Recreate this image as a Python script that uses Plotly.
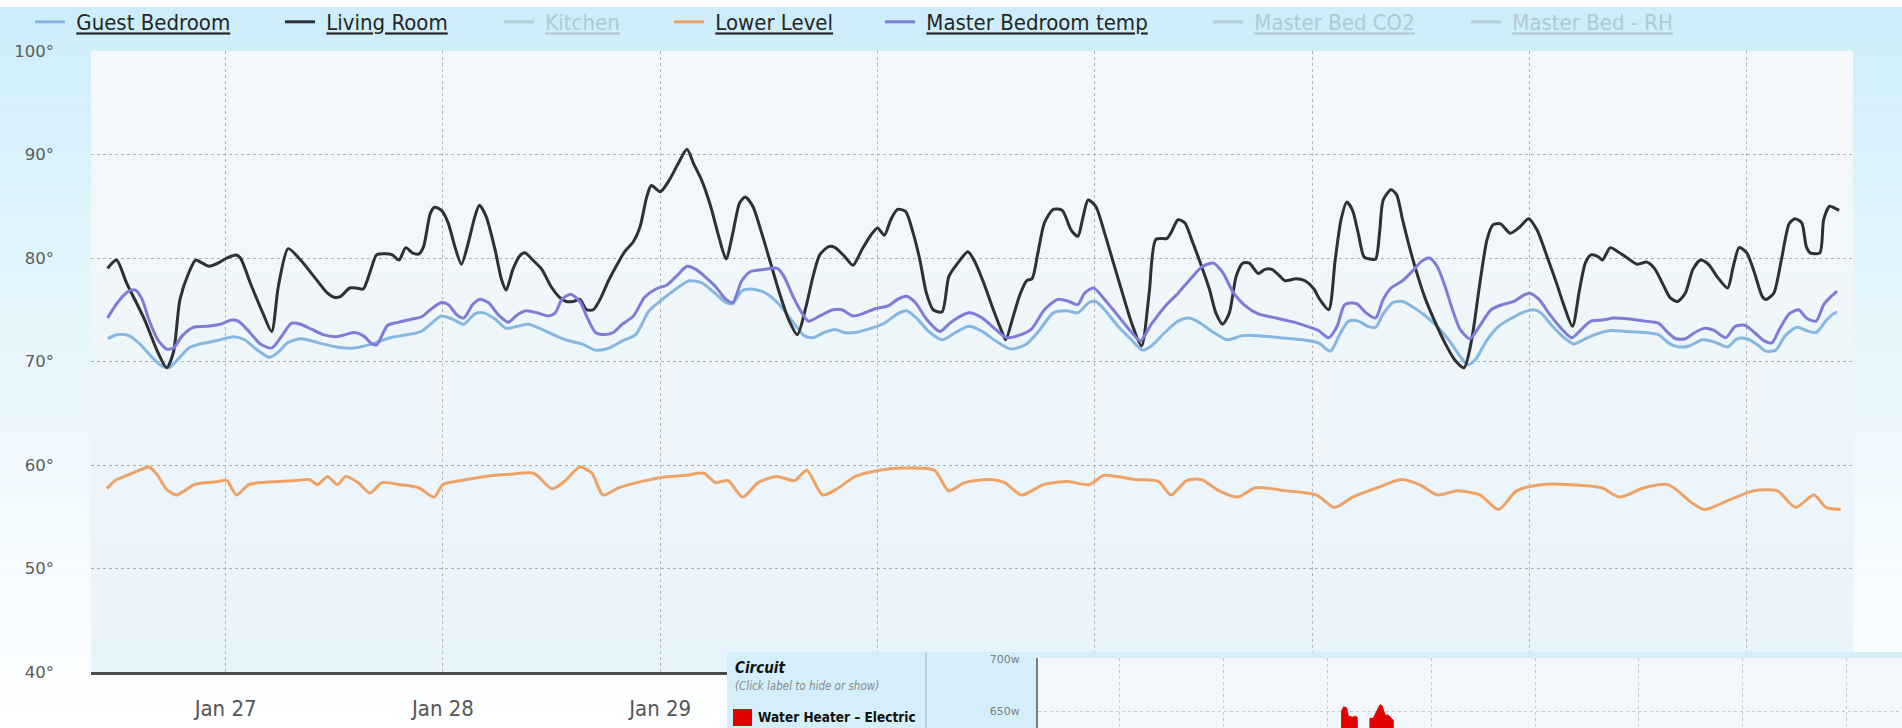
import pandas as pd
import plotly.graph_objects as go

# ---------------- data (days since 2014-01-26 00:00, temperature °F) ----------------
BASE = pd.Timestamp("2014-01-26 00:00")

guest_bedroom = [
    (0.457, 72.2), (0.503, 72.6), (0.554, 72.5), (0.605, 71.7), (0.657, 70.5), (0.698, 69.7), (0.739, 69.4),
    (0.780, 70.2), (0.831, 71.3), (0.883, 71.7), (0.955, 72.0), (1.037, 72.4), (1.088, 72.1), (1.140, 71.2),
    (1.201, 70.4), (1.243, 70.9), (1.284, 71.8), (1.345, 72.2), (1.428, 71.8), (1.510, 71.4), (1.592, 71.3),
    (1.674, 71.7), (1.756, 72.3), (1.839, 72.6), (1.900, 72.9), (1.942, 73.6), (1.993, 74.4), (2.044, 74.1),
    (2.096, 73.6), (2.147, 74.6), (2.188, 74.7), (2.240, 74.1), (2.291, 73.2), (2.342, 73.4), (2.394, 73.6),
    (2.455, 73.1), (2.517, 72.5), (2.579, 72.0), (2.640, 71.7), (2.702, 71.1), (2.764, 71.3), (2.825, 72.0),
    (2.887, 72.6), (2.949, 74.9), (3.010, 76.0), (3.072, 77.0), (3.134, 77.8), (3.191, 77.6), (3.252, 76.6),
    (3.303, 75.7), (3.334, 75.6), (3.375, 76.8), (3.416, 77.0), (3.477, 76.7), (3.539, 75.7), (3.600, 74.1),
    (3.662, 72.5), (3.703, 72.3), (3.754, 72.8), (3.805, 73.1), (3.846, 72.8), (3.898, 72.8), (3.969, 73.2),
    (4.031, 73.7), (4.092, 74.6), (4.133, 74.9), (4.184, 74.1), (4.236, 72.9), (4.297, 72.1), (4.359, 72.8),
    (4.420, 73.4), (4.482, 72.9), (4.543, 72.0), (4.615, 71.2), (4.686, 71.7), (4.748, 73.1), (4.809, 74.7),
    (4.871, 74.9), (4.922, 74.7), (4.973, 75.7), (5.004, 75.8), (5.045, 75.0), (5.107, 73.4), (5.168, 72.1),
    (5.219, 71.1), (5.260, 71.5), (5.322, 72.8), (5.383, 73.9), (5.434, 74.2), (5.486, 73.7), (5.547, 72.8),
    (5.609, 72.1), (5.680, 72.5), (5.752, 72.5), (5.855, 72.3), (5.957, 72.1), (6.029, 71.8), (6.084, 71.0),
    (6.124, 72.5), (6.168, 73.9), (6.212, 73.9), (6.257, 73.4), (6.292, 73.3), (6.327, 74.6), (6.372, 75.7),
    (6.416, 75.8), (6.469, 75.2), (6.522, 74.4), (6.575, 73.4), (6.628, 72.1), (6.681, 70.5), (6.717, 69.7),
    (6.752, 70.2), (6.805, 72.1), (6.858, 73.4), (6.911, 74.1), (6.965, 74.7), (7.018, 75.0), (7.053, 74.7),
    (7.106, 73.4), (7.159, 72.3), (7.204, 71.7), (7.248, 72.1), (7.301, 72.6), (7.372, 73.0), (7.442, 72.9),
    (7.531, 72.8), (7.593, 72.6), (7.646, 71.7), (7.690, 71.4), (7.735, 71.5), (7.796, 72.1), (7.850, 71.9),
    (7.912, 71.4), (7.956, 72.2), (8.000, 72.2), (8.044, 71.7), (8.088, 71.0), (8.133, 71.1), (8.177, 72.5),
    (8.230, 73.3), (8.274, 73.0), (8.319, 72.8), (8.363, 73.9), (8.398, 74.6), (8.416, 74.8),
]

living_room = [
    (0.457, 79.0), (0.498, 79.8), (0.544, 77.6), (0.626, 74.1), (0.688, 70.9), (0.729, 69.4), (0.760, 70.9),
    (0.790, 76.0), (0.831, 78.6), (0.862, 79.8), (0.893, 79.5), (0.924, 79.2), (0.965, 79.5), (1.006, 80.0),
    (1.047, 80.3), (1.068, 80.0), (1.119, 77.3), (1.171, 74.7), (1.212, 72.9), (1.243, 77.3), (1.288, 80.9),
    (1.345, 79.8), (1.407, 78.2), (1.469, 76.6), (1.500, 76.2), (1.530, 76.3), (1.571, 77.1), (1.602, 77.1),
    (1.633, 77.0), (1.664, 78.6), (1.695, 80.3), (1.736, 80.4), (1.767, 80.3), (1.798, 79.8), (1.829, 81.0),
    (1.859, 80.5), (1.890, 80.4), (1.911, 81.1), (1.942, 84.3), (1.962, 84.9), (1.993, 84.6), (2.024, 83.4),
    (2.055, 81.1), (2.085, 79.4), (2.116, 81.4), (2.147, 84.0), (2.168, 85.1), (2.199, 84.0), (2.240, 80.8),
    (2.270, 77.9), (2.291, 76.9), (2.322, 78.9), (2.353, 80.2), (2.377, 80.5), (2.414, 79.8), (2.455, 78.9),
    (2.496, 77.3), (2.537, 76.2), (2.568, 75.8), (2.599, 75.8), (2.630, 76.0), (2.661, 75.0), (2.692, 75.0),
    (2.723, 76.0), (2.764, 77.9), (2.805, 79.5), (2.836, 80.6), (2.877, 81.6), (2.907, 83.0), (2.938, 85.9),
    (2.959, 87.0), (3.000, 86.4), (3.041, 87.5), (3.082, 89.1), (3.123, 90.5), (3.154, 89.1), (3.191, 87.5),
    (3.232, 85.0), (3.273, 81.8), (3.303, 79.9), (3.334, 82.4), (3.365, 85.3), (3.391, 85.9), (3.426, 85.0),
    (3.467, 82.4), (3.508, 79.5), (3.549, 76.6), (3.590, 74.1), (3.631, 72.6), (3.672, 75.4), (3.703, 78.2),
    (3.734, 80.3), (3.775, 81.1), (3.805, 81.0), (3.846, 80.2), (3.887, 79.3), (3.928, 80.8), (3.969, 82.2),
    (4.000, 82.9), (4.031, 82.2), (4.061, 83.7), (4.092, 84.7), (4.129, 84.5), (4.164, 82.4), (4.195, 79.8),
    (4.225, 76.6), (4.256, 75.0), (4.297, 74.8), (4.328, 78.2), (4.369, 79.5), (4.416, 80.6), (4.451, 79.5),
    (4.492, 77.4), (4.533, 75.0), (4.574, 72.8), (4.590, 72.1), (4.625, 74.4), (4.656, 76.5), (4.686, 77.8),
    (4.711, 78.0), (4.738, 80.5), (4.768, 83.4), (4.809, 84.7), (4.850, 84.6), (4.891, 82.7), (4.922, 82.1),
    (4.943, 83.7), (4.969, 85.6), (5.004, 85.0), (5.045, 82.4), (5.086, 79.5), (5.127, 76.6), (5.168, 73.8),
    (5.215, 71.5), (5.250, 76.6), (5.281, 81.8), (5.332, 81.9), (5.352, 82.5), (5.383, 83.7), (5.414, 83.4),
    (5.445, 81.8), (5.486, 79.5), (5.527, 77.0), (5.557, 74.7), (5.588, 73.6), (5.619, 74.7), (5.650, 78.2),
    (5.680, 79.5), (5.711, 79.5), (5.752, 78.5), (5.783, 78.9), (5.814, 78.9), (5.844, 78.4), (5.875, 77.8),
    (5.926, 78.0), (5.967, 77.8), (6.008, 77.0), (6.035, 76.0), (6.076, 75.0), (6.106, 79.8), (6.133, 83.7),
    (6.159, 85.4), (6.186, 84.6), (6.212, 82.4), (6.239, 80.1), (6.265, 79.9), (6.292, 79.9), (6.310, 82.4),
    (6.327, 85.6), (6.363, 86.6), (6.389, 86.1), (6.416, 83.7), (6.451, 80.8), (6.487, 78.2), (6.522, 76.0),
    (6.566, 73.8), (6.611, 71.8), (6.655, 70.2), (6.699, 69.4), (6.734, 72.1), (6.770, 77.3), (6.805, 81.8),
    (6.832, 83.2), (6.867, 83.3), (6.911, 82.4), (6.956, 83.0), (6.996, 83.8), (7.035, 82.7), (7.080, 80.2),
    (7.124, 77.6), (7.159, 75.4), (7.198, 73.4), (7.230, 76.9), (7.257, 79.5), (7.283, 80.3), (7.319, 80.1),
    (7.336, 79.8), (7.372, 81.0), (7.407, 80.6), (7.451, 80.0), (7.496, 79.4), (7.540, 79.6), (7.575, 79.0),
    (7.611, 77.6), (7.646, 76.2), (7.681, 75.8), (7.717, 76.6), (7.752, 78.9), (7.788, 79.8), (7.823, 79.4),
    (7.867, 78.1), (7.912, 77.1), (7.938, 79.2), (7.965, 81.0), (8.000, 80.5), (8.035, 78.6), (8.071, 76.3),
    (8.088, 76.0), (8.124, 76.6), (8.159, 79.8), (8.195, 83.3), (8.221, 83.8), (8.253, 83.4), (8.274, 81.1),
    (8.292, 80.5), (8.336, 80.5), (8.354, 83.7), (8.381, 85.0), (8.407, 84.8), (8.425, 84.6),
]

lower_level = [
    (0.453, 57.7), (0.492, 58.5), (0.548, 59.0), (0.604, 59.5), (0.648, 59.8), (0.687, 59.0), (0.726, 57.7),
    (0.771, 57.1), (0.810, 57.5), (0.855, 58.1), (0.911, 58.3), (0.966, 58.4), (1.006, 58.5), (1.050, 57.1),
    (1.106, 58.1), (1.162, 58.3), (1.246, 58.4), (1.329, 58.5), (1.385, 58.6), (1.424, 58.1), (1.469, 58.9),
    (1.514, 58.1), (1.553, 58.9), (1.609, 58.3), (1.664, 57.3), (1.720, 58.3), (1.804, 58.1), (1.888, 57.8),
    (1.960, 56.9), (1.999, 58.1), (2.083, 58.5), (2.195, 58.9), (2.307, 59.1), (2.418, 59.2), (2.502, 57.7),
    (2.558, 58.4), (2.630, 59.8), (2.686, 59.2), (2.736, 57.1), (2.809, 57.8), (2.893, 58.3), (3.004, 58.8),
    (3.116, 59.0), (3.200, 59.2), (3.256, 58.3), (3.312, 58.5), (3.379, 56.9), (3.451, 58.3), (3.535, 58.9),
    (3.619, 58.5), (3.674, 59.5), (3.747, 57.1), (3.814, 57.7), (3.898, 58.9), (4.009, 59.5), (4.121, 59.7),
    (4.261, 59.5), (4.328, 57.5), (4.400, 58.3), (4.512, 58.6), (4.585, 58.3), (4.663, 57.1), (4.763, 58.1),
    (4.875, 58.4), (4.975, 58.1), (5.042, 59.0), (5.182, 58.6), (5.294, 58.4), (5.350, 57.1), (5.422, 58.5),
    (5.489, 58.6), (5.573, 57.5), (5.657, 56.9), (5.740, 57.8), (5.880, 57.5), (6.020, 57.1), (6.103, 55.9),
    (6.187, 56.9), (6.299, 57.8), (6.410, 58.6), (6.494, 58.1), (6.578, 57.1), (6.662, 57.5), (6.773, 57.1),
    (6.857, 55.7), (6.941, 57.5), (7.052, 58.1), (7.192, 58.1), (7.332, 57.8), (7.415, 56.9), (7.527, 57.8),
    (7.639, 58.1), (7.750, 56.3), (7.806, 55.7), (7.918, 56.6), (8.030, 57.5), (8.141, 57.5), (8.225, 55.9),
    (8.309, 57.1), (8.365, 55.9), (8.432, 55.7),
]

master_bedroom = [
    (0.457, 74.2), (0.503, 75.7), (0.554, 76.8), (0.585, 76.9), (0.616, 76.0), (0.646, 74.1), (0.688, 72.1),
    (0.729, 71.2), (0.760, 71.3), (0.801, 72.5), (0.852, 73.3), (0.914, 73.4), (0.975, 73.6), (1.027, 74.0),
    (1.058, 73.9), (1.099, 73.1), (1.160, 71.7), (1.212, 71.3), (1.253, 72.3), (1.304, 73.7), (1.345, 73.6),
    (1.397, 73.1), (1.448, 72.6), (1.510, 72.4), (1.551, 72.6), (1.592, 72.8), (1.633, 72.5), (1.674, 71.7),
    (1.695, 71.6), (1.746, 73.5), (1.798, 73.8), (1.859, 74.1), (1.900, 74.3), (1.942, 75.0), (1.993, 75.7),
    (2.024, 75.5), (2.065, 74.5), (2.096, 74.2), (2.137, 75.5), (2.168, 76.0), (2.209, 75.7), (2.260, 74.4),
    (2.301, 73.8), (2.342, 74.5), (2.383, 74.9), (2.435, 74.7), (2.486, 74.4), (2.517, 74.7), (2.548, 76.0),
    (2.589, 76.5), (2.630, 75.8), (2.661, 74.4), (2.702, 72.8), (2.743, 72.6), (2.784, 72.8), (2.825, 73.6),
    (2.877, 74.4), (2.928, 76.2), (2.980, 77.0), (3.031, 77.4), (3.082, 78.4), (3.123, 79.2), (3.164, 78.9),
    (3.252, 77.3), (3.303, 76.0), (3.334, 75.7), (3.375, 77.8), (3.416, 78.7), (3.477, 78.9), (3.539, 79.0),
    (3.570, 78.2), (3.611, 76.3), (3.652, 74.7), (3.682, 73.9), (3.734, 74.4), (3.795, 75.0), (3.836, 75.0),
    (3.887, 74.4), (3.928, 74.6), (3.990, 75.1), (4.051, 75.4), (4.092, 76.0), (4.133, 76.3), (4.174, 75.7),
    (4.225, 74.1), (4.287, 72.9), (4.338, 73.8), (4.420, 74.7), (4.482, 74.2), (4.543, 73.1), (4.594, 72.3),
    (4.646, 72.5), (4.707, 73.1), (4.768, 75.0), (4.830, 76.0), (4.881, 75.8), (4.922, 75.5), (4.953, 76.6),
    (4.994, 77.1), (5.045, 76.0), (5.096, 74.7), (5.158, 73.1), (5.209, 72.0), (5.260, 73.6), (5.322, 75.3),
    (5.383, 76.6), (5.445, 78.1), (5.496, 79.2), (5.547, 79.5), (5.588, 78.6), (5.639, 76.6), (5.691, 75.4),
    (5.752, 74.6), (5.834, 74.2), (5.916, 73.8), (5.977, 73.4), (6.029, 73.0), (6.076, 72.3), (6.115, 73.4),
    (6.150, 75.5), (6.204, 75.6), (6.248, 74.7), (6.292, 74.2), (6.327, 76.0), (6.363, 77.1), (6.416, 77.8),
    (6.469, 78.9), (6.504, 79.7), (6.540, 80.0), (6.575, 79.2), (6.611, 77.3), (6.646, 75.0), (6.681, 73.1),
    (6.726, 72.2), (6.770, 73.4), (6.823, 75.0), (6.876, 75.5), (6.929, 75.8), (6.965, 76.3), (7.000, 76.6),
    (7.044, 76.0), (7.088, 74.7), (7.142, 73.3), (7.195, 72.3), (7.239, 73.1), (7.283, 73.9), (7.336, 74.0),
    (7.389, 74.2), (7.460, 74.1), (7.531, 73.9), (7.593, 73.7), (7.637, 72.8), (7.673, 72.2), (7.717, 72.2),
    (7.761, 72.8), (7.805, 73.2), (7.850, 73.0), (7.903, 72.3), (7.947, 73.4), (7.991, 73.5), (8.035, 72.8),
    (8.080, 72.0), (8.115, 71.8), (8.150, 73.1), (8.195, 74.6), (8.239, 75.0), (8.274, 74.2), (8.319, 73.9),
    (8.354, 75.5), (8.389, 76.3), (8.416, 76.8),
]

# hidden (toggled-off) series: no values visible in the picture
kitchen = []
master_bed_co2 = []
master_bed_rh = []

series_names = ["Guest Bedroom", "Living Room", "Kitchen", "Lower Level",
                "Master Bedroom temp", "Master Bed CO2", "Master Bed - RH"]
series_data = [guest_bedroom, living_room, kitchen, lower_level,
               master_bedroom, master_bed_co2, master_bed_rh]
series_colors = ["#86b6e2", "#2e3033", "#a3b5aa", "#efa265", "#7e7cd8", "#a6b2ba", "#a6b2ba"]
series_hidden = [False, False, True, False, False, True, True]

y_ticks = [40, 50, 60, 70, 80, 90, 100]
x_tick_days = pd.date_range("2014-01-27", "2014-02-03", freq="D")
x_tick_shown = ["Jan 27", "Jan 28", "Jan 29"]   # the later day labels sit under the inset panel

# inset "Circuit" chart: position on its own (hour-like) axis, watts
circuit_x = [0.30, 3.130, 3.141, 3.160, 3.189, 3.205, 3.250, 3.275, 3.290, 3.300, 3.400, 3.413,
             3.445, 3.470, 3.510, 3.530, 3.558, 3.589, 3.637, 3.650, 8.50]
circuit_w = [0, 0, 650, 654, 653, 645, 644, 645, 644, 0, 0, 643,
             643, 648, 656, 655, 646, 646, 641, 0, 0]
circuit_ticks = [650, 700]

# ---------------- layout helpers ----------------
W, H = 1902, 728


def fx(p):
    return p / W


def fy(p):
    return 1 - p / H


def to_time(days):
    return [(BASE + pd.Timedelta(days=d)).strftime("%Y-%m-%d %H:%M:%S") for d in days]


fig = go.Figure()

legend_ids = ["legend", "legend2", "legend3", "legend4", "legend5", "legend6", "legend7"]
legend_x = [30, 280, 499, 669, 880, 1208, 1466]

for i, (name, data, color, hidden) in enumerate(zip(series_names, series_data, series_colors, series_hidden)):
    if data:
        xs = to_time([p[0] for p in data])
        ys = [p[1] for p in data]
    else:
        xs, ys = [None], [None]
    fig.add_trace(go.Scatter(
        x=xs, y=ys, name="\u00a0<u>" + name + "</u>", mode="lines",
        line=dict(color=color, width=3, shape="spline", smoothing=0.7),
        visible="legendonly" if hidden else True,
        legend=legend_ids[i], xaxis="x", yaxis="y", hoverinfo="skip",
    ))

fig.add_trace(go.Scatter(
    x=circuit_x, y=circuit_w, mode="lines", fill="tozeroy",
    line=dict(color="#e00000", width=1), fillcolor="#e30000",
    xaxis="x3", yaxis="y3", showlegend=False, hoverinfo="skip",
))

# ---------------- backgrounds ----------------
shapes = []
shapes.append(dict(type="rect", xref="paper", yref="paper", x0=0, x1=1, y0=0, y1=1,
                   fillcolor="#ffffff", line=dict(width=0), layer="below"))
N = 40
top, bot = 7, H
c0, c1 = (204, 237, 251), (255, 255, 255)
for k in range(N):
    a = top + (bot - top) * k / N
    b = top + (bot - top) * (k + 1) / N
    t = ((k + 0.5) / N) ** 0.85
    col = tuple(int(round(c0[j] + (c1[j] - c0[j]) * t)) for j in range(3))
    shapes.append(dict(type="rect", xref="paper", yref="paper", x0=0, x1=1, y0=fy(b), y1=fy(a),
                       fillcolor="rgb(%d,%d,%d)" % col, line=dict(width=0), layer="below"))
# plot area
pt, pb = 51, 672
p0, p1 = (245, 248, 250), (232, 244, 251)
for k in range(N):
    a = pt + (pb - pt) * k / N
    b = pt + (pb - pt) * (k + 1) / N
    t = (k + 0.5) / N
    col = tuple(int(round(p0[j] + (p1[j] - p0[j]) * t)) for j in range(3))
    shapes.append(dict(type="rect", xref="paper", yref="paper", x0=fx(91), x1=fx(1853), y0=fy(b), y1=fy(a),
                       fillcolor="rgb(%d,%d,%d)" % col, line=dict(width=0), layer="below"))

# inset panel (drawn in the inset subplots so it covers the main chart)
shapes.append(dict(type="rect", xref="x2", yref="y2", x0=0, x1=1, y0=0, y1=1,
                   fillcolor="#d4effa", line=dict(width=0), layer="below"))
shapes.append(dict(type="line", xref="x2", yref="y2", x0=(926 - 727) / (W - 727), x1=(926 - 727) / (W - 727),
                   y0=0, y1=1, line=dict(color="#b2c6cf", width=1.5), layer="below"))
shapes.append(dict(type="rect", xref="x3", yref="y3", x0=0.221, x1=8.529, y0=633.65, y1=700.96,
                   fillcolor="#f2f7fb", line=dict(width=0), layer="below"))
# swatch of the inset legend
shapes.append(dict(type="rect", xref="paper", yref="paper", x0=fx(733), x1=fx(752), y0=fy(726), y1=fy(709),
                   fillcolor="#e00000", line=dict(width=0), layer="above"))

annotations = [
    dict(text="<b><i>Circuit</i></b>", x=fx(733), y=fy(668), xref="paper", yref="paper",
         xanchor="left", yanchor="middle", showarrow=False,
         font=dict(family="DejaVu Sans Condensed", size=15, color="#111111")),
    dict(text="<i>(Click label to hide or show)</i>", x=fx(733), y=fy(686), xref="paper", yref="paper",
         xanchor="left", yanchor="middle", showarrow=False,
         font=dict(family="DejaVu Sans Condensed", size=11.5, color="#8a8a8a")),
    dict(text="<b>Water Heater – Electric</b>", x=fx(756), y=fy(717), xref="paper", yref="paper",
         xanchor="left", yanchor="middle", showarrow=False,
         font=dict(family="DejaVu Sans Condensed", size=13.5, color="#111111")),
]

layout = dict(
    width=W, height=H,
    margin=dict(l=0, r=0, t=0, b=0, pad=0, autoexpand=False),
    paper_bgcolor="#ffffff", plot_bgcolor="rgba(0,0,0,0)",
    showlegend=True,
    shapes=shapes, annotations=annotations,
    xaxis=dict(
        domain=[fx(91), fx(1853)], anchor="y", type="date",
        range=[(BASE + pd.Timedelta(days=0.3806)).strftime("%Y-%m-%d %H:%M"),
               (BASE + pd.Timedelta(days=8.489)).strftime("%Y-%m-%d %H:%M")],
        tickvals=[d.strftime("%Y-%m-%d") for d in x_tick_days],
        ticktext=[d.strftime("%b %d") if d.strftime("%b %d") in x_tick_shown else "" for d in x_tick_days],
        showgrid=True, gridcolor="#b5b5b5", griddash="3px,3px", gridwidth=1,
        showline=True, linecolor="#4d4d4d", linewidth=2.5, ticks="", zeroline=False,
        tickfont=dict(family="DejaVu Sans Condensed", size=22, color="#555555"),
        ticklabelstandoff=15, automargin=False, fixedrange=True,
    ),
    yaxis=dict(
        domain=[fy(672), fy(51)], anchor="x", range=[40, 100],
        tickvals=y_ticks, ticktext=["%d°" % v for v in y_ticks],
        showgrid=True, gridcolor="#b0b0b0", griddash="3px,3px", gridwidth=1,
        showline=False, ticks="", zeroline=False,
        tickfont=dict(family="DejaVu Sans", size=16.5, color="#5c5c5c"),
        ticklabelstandoff=36, automargin=False, fixedrange=True,
    ),
    xaxis2=dict(domain=[fx(727), 1], anchor="y2", range=[0, 1], visible=False, fixedrange=True),
    yaxis2=dict(domain=[0, fy(652)], anchor="x2", range=[0, 1], visible=False, fixedrange=True),
    xaxis3=dict(
        domain=[fx(1038), 1], anchor="y3", range=[0.221, 8.529], dtick=1, tick0=0,
        showgrid=True, gridcolor="#c8c8c8", griddash="3px,3px", gridwidth=1,
        showticklabels=False, ticks="", zeroline=False, showline=False, fixedrange=True,
    ),
    yaxis3=dict(
        domain=[0, fy(658)], anchor="x3", range=[633.65, 700.96],
        tickvals=circuit_ticks, ticktext=["%dw" % v for v in circuit_ticks],
        showgrid=True, gridcolor="#c8c8c8", griddash="3px,3px", gridwidth=1,
        showline=True, linecolor="#7d7d7d", linewidth=2, ticks="", zeroline=False,
        tickfont=dict(family="DejaVu Sans", size=11, color="#808080"),
        ticklabelstandoff=14, automargin=False, fixedrange=True,
    ),
)

for i, lid in enumerate(legend_ids):
    hidden = series_hidden[i]
    layout[lid] = dict(
        x=fx(legend_x[i]), y=fy(22), xref="paper", yref="paper",
        xanchor="left", yanchor="middle", orientation="h",
        bgcolor="rgba(0,0,0,0)", borderwidth=0, itemwidth=30,
        font=dict(family="DejaVu Sans Condensed", size=22,
                  color="#9aa5a9" if hidden else "#262626"),
        itemclick=False, itemdoubleclick=False,
    )

fig.update_layout(**layout)
fig.write_html("out.html", config={"displayModeBar": False},
               post_script="document.body.style.margin='0px';document.body.style.overflow='hidden';")
